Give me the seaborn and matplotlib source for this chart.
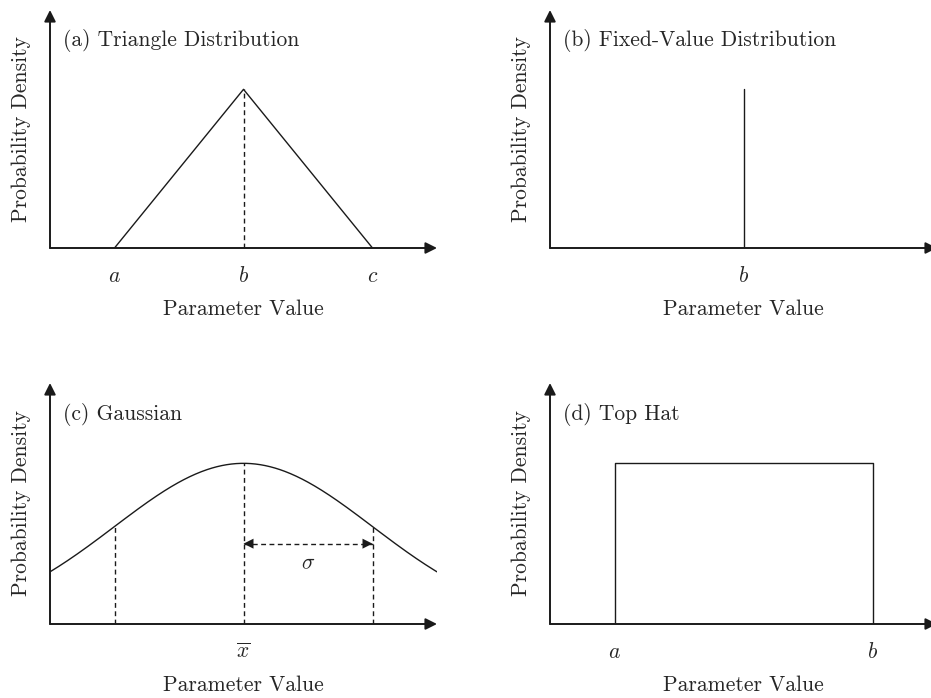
"""
Sketch of the four prior distributions: triangle, fixed value,
gaussian and top hat, drawn as bare axes with arrow heads.
"""

import numpy as np
import pandas as pd
import seaborn as sns
import matplotlib
matplotlib.use("Agg")
import matplotlib.pyplot as plt

# --- values --------------------------------------------------------------
X_RANGE = (0.5, 3.5)
Y_RANGE = (0.0, 1.5)

TRI_X = [1, 2, 3]
TRI_Y = [0, 1, 0]
TRI_TICKS = [1, 2, 3]
TRI_LABELS = ["$a$", "$b$", "$c$"]

FIXED_X = [2, 2]
FIXED_Y = [0, 1]
FIXED_TICKS = [2]
FIXED_LABELS = ["$b$"]

GAUSS_MEAN = 2.0
GAUSS_SIGMA = 1.0
GAUSS_PEAK = 1.0
GAUSS_TICKS = [2]
GAUSS_LABELS = [r"$\overline{x}$"]
SIGMA_ARROW_Y = 0.5
SIGMA_LABEL_POS = (2.5, 0.38)

HAT_X = [1, 1, 3, 3]
HAT_Y = [0, 1, 1, 0]
HAT_TICKS = [1, 3]
HAT_LABELS = ["$a$", "$b$"]

TITLES = ["(a) Triangle Distribution", "(b) Fixed-Value Distribution",
          "(c) Gaussian", "(d) Top Hat"]

sns.set_theme(style="white")
plt.rcParams["font.family"] = "serif"
plt.rcParams["font.serif"] = ["cmr10", "DejaVu Serif"]
plt.rcParams["mathtext.fontset"] = "cm"
plt.rcParams["axes.unicode_minus"] = False

FS = 15.5
W = 387 / 931


def setup_axes(ax, ticks, labels, title):
    ax.set_xlim(*X_RANGE)
    ax.set_ylim(*Y_RANGE)
    for s in ax.spines.values():
        s.set_visible(False)
    arrow = dict(arrowstyle="-|>", lw=1.4, color="k", shrinkA=0, shrinkB=0,
                 mutation_scale=17)
    ax.annotate("", xy=(1, 0), xytext=(0, 0), xycoords="axes fraction",
                arrowprops=arrow, annotation_clip=False)
    ax.annotate("", xy=(0, 1), xytext=(0, 0), xycoords="axes fraction",
                arrowprops=arrow, annotation_clip=False)
    ax.set_xticks(ticks)
    ax.set_xticklabels(labels, fontsize=FS)
    ax.set_yticks([])
    ax.tick_params(axis="x", length=0, pad=13)
    ax.set_xlabel("Parameter Value", fontsize=FS, labelpad=10)
    ax.set_ylabel("Probability Density", fontsize=FS, labelpad=14)
    ax.text(0.034, 0.87, title, transform=ax.transAxes, fontsize=FS,
            ha="left", va="center")


fig = plt.figure(figsize=(9.31, 6.98), dpi=100)
ax_a = fig.add_axes([50 / 931, 450 / 698, W, 238 / 698])
ax_b = fig.add_axes([550 / 931, 450 / 698, W, 238 / 698])
ax_c = fig.add_axes([50 / 931, 74 / 698, W, 241 / 698])
ax_d = fig.add_axes([550 / 931, 74 / 698, W, 241 / 698])

line_kw = dict(color="k", linewidth=1.0, sort=False, estimator=None)
dash = (0, (3.5, 2.5))

# (a) triangle
sns.lineplot(x=TRI_X, y=TRI_Y, ax=ax_a, **line_kw)
ax_a.vlines(TRI_X[1], 0, TRI_Y[1], colors="k", linewidth=1.0, linestyles=dash)
setup_axes(ax_a, TRI_TICKS, TRI_LABELS, TITLES[0])

# (b) fixed value
sns.lineplot(x=FIXED_X, y=FIXED_Y, ax=ax_b, **line_kw)
setup_axes(ax_b, FIXED_TICKS, FIXED_LABELS, TITLES[1])

# (c) gaussian
gx = np.linspace(X_RANGE[0], X_RANGE[1], 400)
gauss = pd.DataFrame({
    "x": gx,
    "y": GAUSS_PEAK * np.exp(-0.5 * ((gx - GAUSS_MEAN) / GAUSS_SIGMA) ** 2),
})
sns.lineplot(data=gauss, x="x", y="y", ax=ax_c, **line_kw)
sig_x = [GAUSS_MEAN - GAUSS_SIGMA, GAUSS_MEAN, GAUSS_MEAN + GAUSS_SIGMA]
sig_h = [GAUSS_PEAK * np.exp(-0.5 * ((v - GAUSS_MEAN) / GAUSS_SIGMA) ** 2) for v in sig_x]
ax_c.vlines(sig_x, 0, sig_h, colors="k", linewidth=1.0, linestyles=dash)
ax_c.plot([GAUSS_MEAN, GAUSS_MEAN + GAUSS_SIGMA], [SIGMA_ARROW_Y] * 2,
          color="k", lw=1.0, ls=dash)
for start, end in [(GAUSS_MEAN + 0.5 * GAUSS_SIGMA, GAUSS_MEAN),
                   (GAUSS_MEAN + 0.5 * GAUSS_SIGMA, GAUSS_MEAN + GAUSS_SIGMA)]:
    ax_c.annotate("", xy=(end, SIGMA_ARROW_Y), xytext=(start, SIGMA_ARROW_Y),
                  arrowprops=dict(arrowstyle="-|>", lw=0, color="k",
                                  shrinkA=0, shrinkB=0, mutation_scale=18))
ax_c.text(*SIGMA_LABEL_POS, r"$\sigma$", fontsize=FS, ha="center", va="center")
setup_axes(ax_c, GAUSS_TICKS, GAUSS_LABELS, TITLES[2])

# (d) top hat
sns.lineplot(x=HAT_X, y=HAT_Y, ax=ax_d, **line_kw)
setup_axes(ax_d, HAT_TICKS, HAT_LABELS, TITLES[3])

fig.savefig("out.png", dpi=100)
